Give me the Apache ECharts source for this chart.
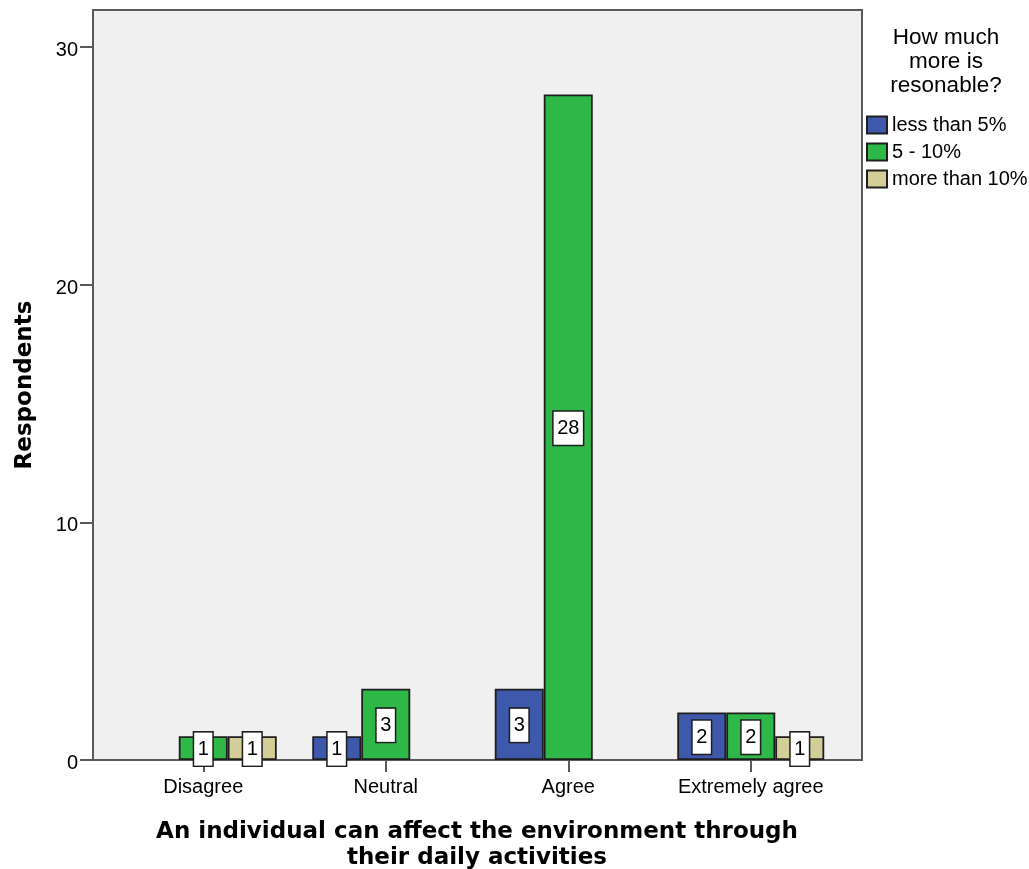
<!DOCTYPE html>
<html>
<head>
<meta charset="utf-8">
<script src="https://cdn.jsdelivr.net/npm/echarts@6/dist/echarts.min.js"></script>
<style>
  html, body { margin: 0; padding: 0; background: #ffffff; }
  #chart { width: 1029px; height: 869px; }
</style>
</head>
<body>
<div id="chart"></div>
<script>
// Responses grouped by agreement level
const categories = ['Disagree', 'Neutral', 'Agree', 'Extremely agree'];
const seriesNames = ['less than 5%', '5 - 10%', 'more than 10%'];
const lessThan5 = [0, 1, 3, 2];
const from5to10 = [1, 3, 28, 2];
const moreThan10 = [1, 0, 0, 1];
const yTicks = [0, 10, 20, 30];

const colors = ['#3e58ac', '#2eb848', '#d3ce97'];
const yMax = 31.55;
const regular = "'Liberation Sans', Arial, sans-serif";
const bold = "'DejaVu Sans', sans-serif";

const chart = echarts.init(document.getElementById('chart'), null, { renderer: 'canvas' });

// Empty cells get neither an outline nor a value box
function cells(values) {
  return values.map(v => v === 0
    ? { value: 0, itemStyle: { borderWidth: 0 }, label: { show: false } }
    : v);
}

function barSeries(name, values, color) {
  return {
    name: name,
    type: 'bar',
    xAxisIndex: 1,
    yAxisIndex: 1,
    data: cells(values),
    barWidth: 49,
    barGap: '0%',
    itemStyle: { color: color, borderColor: '#1e1e1e', borderWidth: 1.8 },
    label: {
      show: true,
      position: 'inside',
      offset: [0, 1],
      color: '#000000',
      fontFamily: regular,
      fontSize: 20,
      lineHeight: 20,
      backgroundColor: '#ffffff',
      borderColor: '#1e1e1e',
      borderWidth: 1.5,
      padding: [6.5, 3.5]
    },
    emphasis: { disabled: true },
    z: 3
  };
}

chart.setOption({
  animation: false,
  grid: [
    { left: 93, top: 10, width: 769, height: 750, outerBoundsMode: 'none', show: true,
      backgroundColor: '#f0f0f0', borderColor: '#5a5a5a', borderWidth: 2, z: 0 },
    { left: 112, top: 10, width: 730, height: 750, outerBoundsMode: 'none' }
  ],
  legend: {
    orient: 'vertical',
    left: 866,
    top: 115,
    padding: 0,
    itemWidth: 20,
    itemHeight: 17,
    itemGap: 7,
    icon: 'rect',
    textStyle: { fontFamily: regular, fontSize: 20, color: '#000000' },
    data: seriesNames
  },
  graphic: [{
    type: 'text',
    x: 946,
    y: 26,
    style: {
      text: 'How much\nmore is\nresonable?',
      fill: '#000000',
      font: '22.5px ' + regular,
      lineHeight: 24,
      align: 'center',
      verticalAlign: 'top'
    }
  }],
  xAxis: [
    { gridIndex: 0, type: 'value', min: 0, max: 1, show: false },
    {
      gridIndex: 1,
      type: 'category',
      data: categories,
      axisLine: { show: false },
      axisTick: { show: true, alignWithLabel: true, length: 12, lineStyle: { color: '#5a5a5a', width: 2 } },
      axisLabel: { interval: 0, margin: 17, fontFamily: regular, fontSize: 20, color: '#000000' },
      name: 'An individual can affect the environment through\ntheir daily activities',
      nameLocation: 'middle',
      nameGap: 59,
      nameTextStyle: { fontFamily: bold, fontWeight: 'bold', fontSize: 23, color: '#000000', lineHeight: 26, verticalAlign: 'top' }
    }
  ],
  yAxis: [
    {
      gridIndex: 0,
      type: 'value',
      min: 0,
      max: yMax,
      interval: 10,
      axisLine: { show: true, lineStyle: { color: '#5a5a5a', width: 2 } },
      axisTick: { show: true, length: 13, customValues: yTicks, lineStyle: { color: '#5a5a5a', width: 2 } },
      axisLabel: { margin: 15, verticalAlign: 'top', lineHeight: 7, customValues: yTicks, fontFamily: regular, fontSize: 20, color: '#000000' },
      splitLine: { show: false },
      name: 'Respondents',
      nameLocation: 'middle',
      nameGap: 56,
      nameTextStyle: { fontFamily: bold, fontWeight: 'bold', fontSize: 23, color: '#000000' }
    },
    { gridIndex: 1, type: 'value', min: 0, max: yMax, show: false, splitLine: { show: false } }
  ],
  series: [
    barSeries(seriesNames[0], lessThan5, colors[0]),
    barSeries(seriesNames[1], from5to10, colors[1]),
    barSeries(seriesNames[2], moreThan10, colors[2])
  ]
});
</script>
</body>
</html>
